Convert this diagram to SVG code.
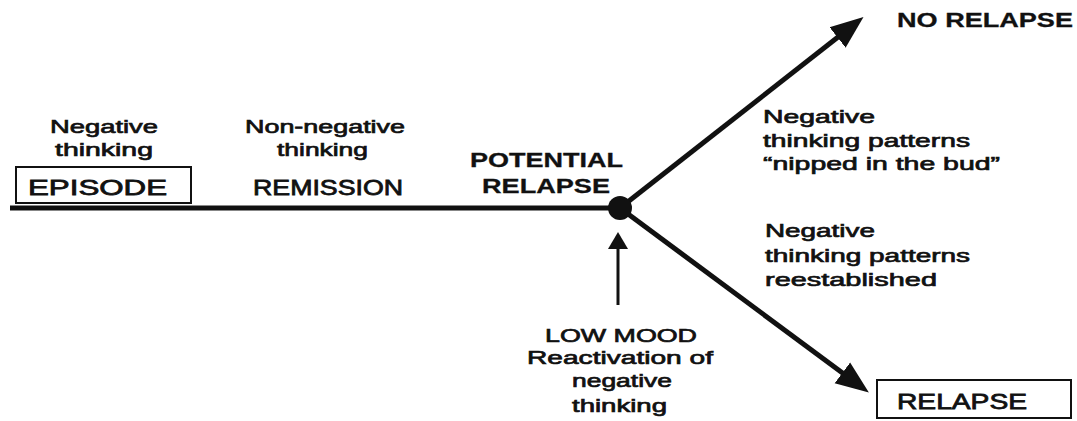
<svg xmlns="http://www.w3.org/2000/svg" width="1077" height="421" viewBox="0 0 1077 421">
<style>
text{font-family:"Liberation Sans",Arial,Helvetica,sans-serif;fill:#111;font-size:19px;stroke:#111;stroke-width:0.7px}
.cap{font-size:22px;stroke-width:0.8px}
.b{font-weight:bold;font-size:21px;stroke-width:0.3px}
.box{fill:#fff;stroke:#111;stroke-width:2}
.ln{stroke:#111;fill:none}
</style>
<defs>
<marker id="bigHead" markerUnits="userSpaceOnUse" markerWidth="34" markerHeight="28" refX="12" refY="14" orient="auto" viewBox="0 0 34 28">
<path d="M0,1 L33,14 L0,27 z" fill="#111"/>
</marker>
<marker id="smallHead" markerUnits="userSpaceOnUse" markerWidth="18" markerHeight="22" refX="6" refY="11" orient="auto" viewBox="0 0 18 22">
<path d="M0,1 L17,11 L0,21 z" fill="#111"/>
</marker>
</defs>
<rect width="1077" height="421" fill="#fff"/>
<g id="connectors">
<line class="ln" x1="10" y1="208" x2="620" y2="208" stroke-width="5"/>
<line class="ln" x1="620" y1="208" x2="847" y2="30" stroke-width="5" marker-end="url(#bigHead)"/>
<line class="ln" x1="620" y1="208" x2="852" y2="380" stroke-width="5" marker-end="url(#bigHead)"/>
<line class="ln" x1="618" y1="305" x2="618" y2="243" stroke-width="3" marker-end="url(#smallHead)"/>
<circle cx="620" cy="208" r="12" fill="#111"/>
</g>
<g id="episode">
<text x="50" y="133" textLength="108" lengthAdjust="spacingAndGlyphs">Negative</text>
<text x="55" y="156" textLength="98" lengthAdjust="spacingAndGlyphs">thinking</text>
<rect class="box" x="16" y="167" width="175" height="36"/>
<text class="cap" x="28" y="195" textLength="139" lengthAdjust="spacingAndGlyphs">EPISODE</text>
</g>
<g id="remission">
<text x="245" y="133" textLength="160" lengthAdjust="spacingAndGlyphs">Non-negative</text>
<text x="277" y="156" textLength="91" lengthAdjust="spacingAndGlyphs">thinking</text>
<text class="cap" x="253" y="195" textLength="150" lengthAdjust="spacingAndGlyphs">REMISSION</text>
</g>
<g id="potential-relapse">
<text class="b" x="470" y="167" textLength="153" lengthAdjust="spacingAndGlyphs">POTENTIAL</text>
<text class="b" x="482" y="193" textLength="128" lengthAdjust="spacingAndGlyphs">RELAPSE</text>
</g>
<g id="low-mood">
<text x="545" y="342" textLength="152" lengthAdjust="spacingAndGlyphs">LOW MOOD</text>
<text x="527" y="364" textLength="186" lengthAdjust="spacingAndGlyphs">Reactivation of</text>
<text x="572" y="387" textLength="100" lengthAdjust="spacingAndGlyphs">negative</text>
<text x="572" y="412" textLength="95" lengthAdjust="spacingAndGlyphs">thinking</text>
</g>
<g id="no-relapse">
<text class="b" x="897" y="27" textLength="176" lengthAdjust="spacingAndGlyphs">NO RELAPSE</text>
</g>
<g id="nipped-label">
<text x="763" y="123" textLength="112" lengthAdjust="spacingAndGlyphs">Negative</text>
<text x="763" y="147" textLength="207" lengthAdjust="spacingAndGlyphs">thinking patterns</text>
<text x="763" y="170" textLength="237" lengthAdjust="spacingAndGlyphs">“nipped in the bud”</text>
</g>
<g id="reestablished-label">
<text x="765" y="237" textLength="110" lengthAdjust="spacingAndGlyphs">Negative</text>
<text x="765" y="262" textLength="205" lengthAdjust="spacingAndGlyphs">thinking patterns</text>
<text x="765" y="286" textLength="172" lengthAdjust="spacingAndGlyphs">reestablished</text>
</g>
<g id="relapse">
<rect class="box" x="877" y="380" width="194" height="38"/>
<text class="cap" x="897" y="409" textLength="130" lengthAdjust="spacingAndGlyphs">RELAPSE</text>
</g>
</svg>
